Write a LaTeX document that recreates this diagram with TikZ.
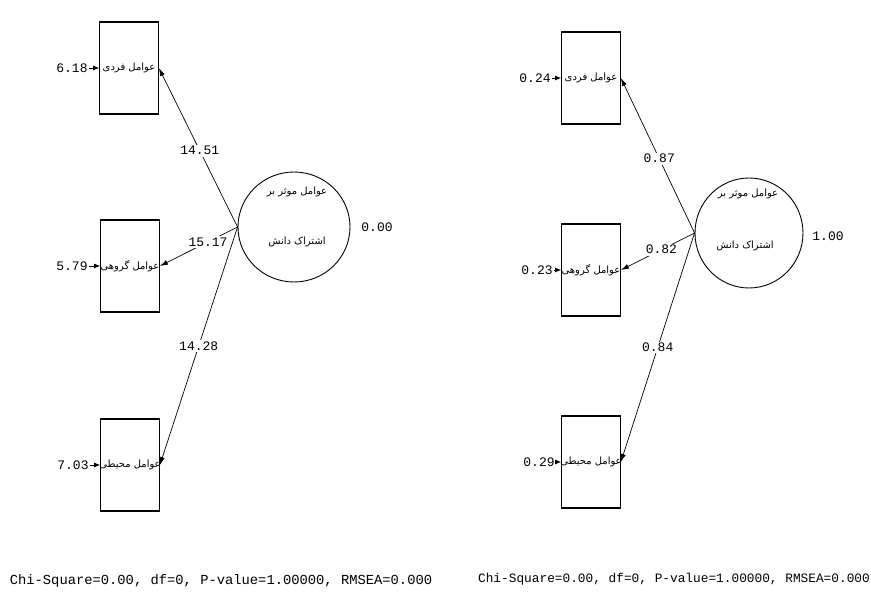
\documentclass[tikz,border=0pt]{standalone}
\usepackage{fontspec}
\setmainfont{Liberation Mono}
\newfontfamily\arabicfont[Script=Arabic]{DejaVu Sans}
\TeXXeTstate=1
\usetikzlibrary{arrows.meta,shapes.geometric}
\newcommand{\fatxt}[1]{{\arabicfont\beginR #1\endR}}
\newcommand{\boxtxt}[1]{\makebox[0pt]{\fatxt{#1}}}
\begin{document}
\begin{tikzpicture}[x=1pt,y=-1pt,
  obsbox/.style={draw, line width=0.8pt, minimum width=59pt, minimum height=91pt, inner sep=0pt, font=\fontsize{10}{12}\selectfont},
  boxedge/.style={line width=1.8pt},
  latent/.style={draw, ellipse, line width=0.9pt, minimum width=112pt, minimum height=110pt, inner sep=0pt},
  fa/.style={font=\fontsize{10}{12}\selectfont, inner sep=0pt},
  num/.style={font=\fontsize{13}{14}\selectfont, inner sep=1pt},
  lbl/.style={font=\fontsize{13}{14}\selectfont, fill=white, inner sep=1.5pt},
  arr/.style={-{Latex[length=8pt,width=5pt]}, line width=0.7pt},
  errarr/.style={-{Latex[length=6pt,width=5pt]}, line width=0.7pt},
  fit/.style={inner sep=0pt}
]
\fill[white] (0,0) rectangle (871,612);
\useasboundingbox (0,0) rectangle (871,612);

% ---------- left model ----------
\node[obsbox] (L1) at (129,68) {\boxtxt{عوامل فردی}};
\node[obsbox] (L2) at (130,266) {\boxtxt{عوامل گروهی}};
\node[obsbox] (L3) at (130,465) {\boxtxt{عوامل محیطی}};
\node[latent] (EL) at (294,227) {};
\node[fa] (ELa) at (297,192) {\fatxt{عوامل موثر بر}};
\node[fa] (ELb) at (297,242) {\fatxt{اشتراک دانش}};
\node[num] (ELv) at (377,227) {0.00};

\node[num] (eL1) at (72,68) {6.18};
\node[num] (eL2) at (72,266) {5.79};
\node[num] (eL3) at (73,465) {7.03};
\draw[errarr] (eL1) -- (L1);
\draw[errarr] (eL2) -- (L2);
\draw[errarr] (eL3) -- (L3);

\draw[arr] (EL.west) -- node[lbl, pos=0.48] (kL1) {14.51} (L1.east);
\draw[arr] (EL.west) -- node[lbl, pos=0.38] (kL2) {15.17} (L2.east);
\draw[arr] (EL.west) -- node[lbl, pos=0.50] (kL3) {14.28} (L3.east);

% ---------- right model ----------
\node[obsbox] (R1) at (591,78) {\boxtxt{عوامل فردی}};
\node[obsbox] (R2) at (591,270) {\boxtxt{عوامل گروهی}};
\node[obsbox] (R3) at (591,462) {\boxtxt{عوامل محیطی}};
\node[latent, minimum width=108pt] (ER) at (749,233) {};
\node[fa] (ERa) at (748,194) {\fatxt{عوامل موثر بر}};
\node[fa] (ERb) at (745,246) {\fatxt{اشتراک دانش}};
\node[num] (ERv) at (828,236) {1.00};

\node[num] (eR1) at (535,78) {0.24};
\node[num] (eR2) at (537,270) {0.23};
\node[num] (eR3) at (539,462) {0.29};
\draw[errarr] (eR1) -- (R1);
\draw[errarr] (eR2) -- (R2);
\draw[errarr] (eR3) -- (R3);

\draw[arr] (ER.west) -- node[lbl, pos=0.48] (kR1) {0.87} (R1.east);
\draw[arr] (ER.west) -- node[lbl, pos=0.45] (kR2) {0.82} (R2.east);
\draw[arr] (ER.west) -- node[lbl, pos=0.50] (kR3) {0.84} (R3.east);

% thicker top and bottom edges of boxes
\foreach \n in {L1,L2,L3,R1,R2,R3} {
  \draw[boxedge] (\n.north west) -- (\n.north east);
  \draw[boxedge] (\n.south west) -- (\n.south east);
}

% ---------- fit statistics ----------
\node[fit, font=\fontsize{13.8}{15}\selectfont] (fitL) at (221,581) {Chi-Square=0.00, df=0, P-value=1.00000, RMSEA=0.000};
\node[fit, font=\fontsize{12.8}{14}\selectfont] (fitR) at (674,579) {Chi-Square=0.00, df=0, P-value=1.00000, RMSEA=0.000};
\end{tikzpicture}
\end{document}
